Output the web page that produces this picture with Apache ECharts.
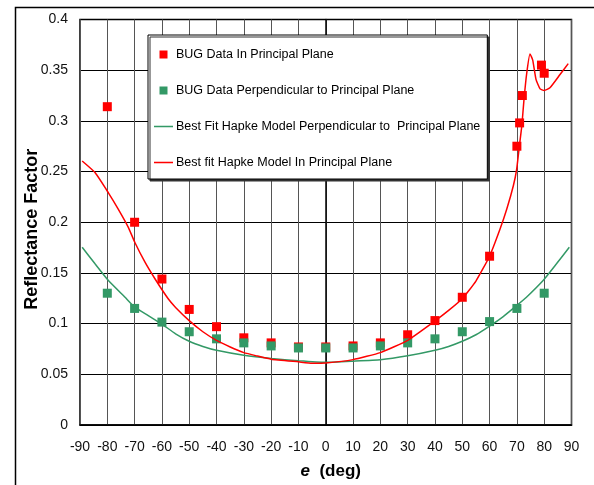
<!DOCTYPE html>
<html><head><meta charset="utf-8">
<script src="https://cdn.jsdelivr.net/npm/echarts@6/dist/echarts.min.js"></script>
<style>html,body{margin:0;padding:0;background:#fff}#c{width:594px;height:485px}</style>
</head><body><div id="c"></div>
<script>
// Data
const redDataX = [-80,-70,-60,-50,-40,-30,-20,-10,0,10,20,30,40,50,60,70,71,72,79,80];
const redDataY = [0.314,0.200,0.144,0.114,0.097,0.086,0.081,0.077,0.077,0.078,0.081,0.089,0.103,0.126,0.1665,0.275,0.298,0.325,0.355,0.347];
const greenDataX = [-80,-70,-60,-50,-40,-30,-20,-10,0,10,20,30,40,50,60,70,80];
const greenDataY = [0.130,0.115,0.1015,0.092,0.085,0.081,0.078,0.076,0.076,0.076,0.078,0.081,0.085,0.092,0.102,0.115,0.130];
const redFitX = [-89.2,-84.5,-79.6,-76,-72.3,-69.9,-66.2,-62.5,-57.7,-55,-50,-45,-40,-35,-30,-25,-20,-10,-5,0,10,20,30,40,45,50,55,60,63.8,66.3,68.7,69.9,70.9,71.8,72.6,73.6,74.8,75.8,77,78.5,80,82.1,85.8,88.8];
const redFitY = [0.2604,0.249,0.229,0.213,0.195,0.180,0.1606,0.144,0.1245,0.116,0.103,0.092,0.0835,0.077,0.0714,0.068,0.0649,0.0623,0.061,0.0612,0.0645,0.0714,0.0835,0.1026,0.113,0.1245,0.142,0.1665,0.193,0.213,0.236,0.252,0.275,0.295,0.321,0.347,0.366,0.360,0.341,0.3316,0.330,0.3326,0.3457,0.3565];
const greenFitX = [-89.2,-84.5,-79.6,-73.5,-70,-65,-60,-55,-50,-45,-40,-30,-20,-10,0,10,20,30,40,45,50,55,60,65,70,73.5,79.6,84.5,89.2];
const greenFitY = [0.1753,0.159,0.1425,0.126,0.1163,0.108,0.0995,0.090,0.0826,0.0775,0.0737,0.0688,0.0656,0.0633,0.0618,0.0629,0.0643,0.0682,0.0737,0.0775,0.0826,0.089,0.0975,0.107,0.118,0.126,0.1425,0.159,0.1753];
const seriesNames = ['BUG Data In Principal Plane','BUG Data Perpendicular to Principal Plane','Best Fit Hapke Model Perpendicular to  Principal Plane','Best fit Hapke Model In Principal Plane'];

const zip = (a,b)=>a.map((x,i)=>[x,b[i]]);
const chart = echarts.init(document.getElementById('c'));
const FONT = 'Liberation Sans, Arial, sans-serif';
const SQ = 'path://M0,0H10V10H0Z';
const LN = 'path://M0,0H100V8H0Z';
chart.setOption({
  animation:false,
  backgroundColor:'#fff',
  textStyle:{fontFamily:FONT},
  grid:{left:80,right:22.5,top:19.5,bottom:58.3,show:true,borderColor:'#000',borderWidth:1.5,backgroundColor:'transparent'},
  graphic:[{type:'rect',left:13,top:5,shape:{width:640,height:520},style:{fill:'none',stroke:'#000',lineWidth:1.5},silent:true,z:-1}],
  legend:{
    orient:'vertical',left:148,top:35,
    data:[
      {name:seriesNames[0],icon:SQ},
      {name:seriesNames[1],icon:SQ},
      {name:seriesNames[2],icon:LN},
      {name:seriesNames[3],icon:LN}
    ],
    symbolKeepAspect:true,
    itemWidth:19,itemHeight:8,itemGap:23,
    padding:[13,7,10,6],
    backgroundColor:'#fff',borderColor:'#000',borderWidth:1,
    shadowColor:'#333',shadowOffsetX:2,shadowOffsetY:2,shadowBlur:0,
    textStyle:{fontSize:12.5,color:'#000',fontFamily:FONT,padding:[0,0,0,-2]}
  },
  xAxis:{
    type:'value',min:-90,max:90,interval:10,
    name:'{e|e}{d|  (deg)}',nameLocation:'middle',nameGap:38,nameMoveOverlap:false,
    nameTextStyle:{padding:[0,0,0,10],rich:{e:{fontSize:17,fontWeight:'bold',fontStyle:'italic',fontFamily:FONT,color:'#000'},d:{fontSize:17,fontWeight:'bold',fontFamily:FONT,color:'#000'}}},
    axisLine:{lineStyle:{color:'#000',width:1.5}},
    axisTick:{show:false},
    axisLabel:{fontSize:14,color:'#111',margin:15},
    splitLine:{show:true,lineStyle:{color:'#555',width:1}}
  },
  yAxis:{
    type:'value',min:0,max:0.4,interval:0.05,
    name:'Reflectance Factor',nameLocation:'middle',nameGap:39,nameMoveOverlap:false,
    nameTextStyle:{fontSize:18,fontWeight:'bold',color:'#000',fontFamily:FONT,padding:[0,14,0,0]},
    axisLine:{lineStyle:{color:'#000',width:1.5}},
    axisTick:{show:false},
    axisLabel:{fontSize:14,color:'#111',margin:12},
    splitLine:{show:true,lineStyle:{color:'#000',width:1}}
  },
  series:[
    {name:seriesNames[0],type:'scatter',symbol:'rect',symbolSize:9,itemStyle:{color:'#ff0000',opacity:1},data:zip(redDataX,redDataY),z:2},
    {name:seriesNames[1],type:'scatter',symbol:'rect',symbolSize:9,itemStyle:{color:'#339966',opacity:1},data:zip(greenDataX,greenDataY),z:3},
    {name:seriesNames[2],type:'line',symbol:'none',smooth:0.15,lineStyle:{color:'#339966',width:1.5},itemStyle:{color:'#339966'},data:zip(greenFitX,greenFitY),z:4},
    {name:seriesNames[3],type:'line',symbol:'none',smooth:0.15,lineStyle:{color:'#ff0000',width:1.5},itemStyle:{color:'#ff0000'},data:zip(redFitX,redFitY),z:5}
  ]
});
</script></body></html>
